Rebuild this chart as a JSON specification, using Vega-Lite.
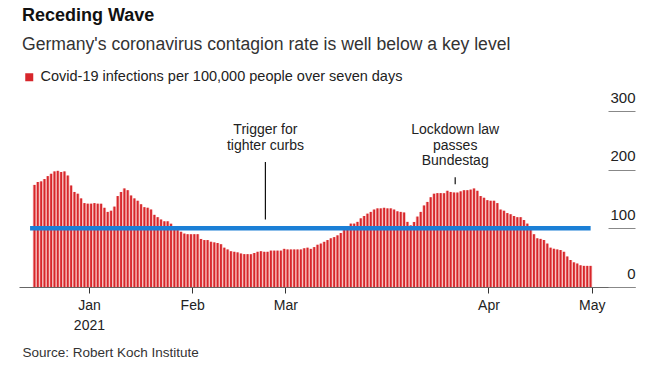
{
  "$schema": "https://vega.github.io/schema/vega-lite/v6.json",
  "autosize": {"type": "none"},
  "width": 616,
  "height": 176,
  "padding": {"left": 19, "top": 111, "right": 23, "bottom": 92},
  "background": "white",
  "config": {"font": "Liberation Sans", "view": {"stroke": null}},
  "title": {
    "text": "Receding Wave",
    "subtitle": "Germany's coronavirus contagion rate is well below a key level",
    "anchor": "start",
    "frame": "group",
    "orient": "top",
    "dx": 3,
    "font": "Liberation Sans",
    "fontSize": 18,
    "fontWeight": "bold",
    "color": "#111111",
    "subtitleFont": "Liberation Sans",
    "subtitleFontSize": 17.6,
    "subtitleColor": "#333333",
    "subtitlePadding": 11,
    "offset": 16
  },
  "datasets": {
    "infections": [
      {"date": "2020-12-15", "value": 174}, {"date": "2020-12-16", "value": 179}, {"date": "2020-12-17", "value": 180}, {"date": "2020-12-18", "value": 184}, {"date": "2020-12-19", "value": 189}, {"date": "2020-12-20", "value": 193}, {"date": "2020-12-21", "value": 197}, {"date": "2020-12-22", "value": 198}, {"date": "2020-12-23", "value": 196}, {"date": "2020-12-24", "value": 197}, {"date": "2020-12-25", "value": 190}, {"date": "2020-12-26", "value": 173}, {"date": "2020-12-27", "value": 162}, {"date": "2020-12-28", "value": 159}, {"date": "2020-12-29", "value": 151}, {"date": "2020-12-30", "value": 143}, {"date": "2020-12-31", "value": 142},
      {"date": "2021-01-01", "value": 142}, {"date": "2021-01-02", "value": 143}, {"date": "2021-01-03", "value": 142}, {"date": "2021-01-04", "value": 142}, {"date": "2021-01-05", "value": 135}, {"date": "2021-01-06", "value": 128}, {"date": "2021-01-07", "value": 130}, {"date": "2021-01-08", "value": 137}, {"date": "2021-01-09", "value": 155}, {"date": "2021-01-10", "value": 162}, {"date": "2021-01-11", "value": 168}, {"date": "2021-01-12", "value": 165}, {"date": "2021-01-13", "value": 156}, {"date": "2021-01-14", "value": 151}, {"date": "2021-01-15", "value": 147}, {"date": "2021-01-16", "value": 141}, {"date": "2021-01-17", "value": 136}, {"date": "2021-01-18", "value": 135}, {"date": "2021-01-19", "value": 132}, {"date": "2021-01-20", "value": 123}, {"date": "2021-01-21", "value": 119}, {"date": "2021-01-22", "value": 115}, {"date": "2021-01-23", "value": 112}, {"date": "2021-01-24", "value": 112}, {"date": "2021-01-25", "value": 108}, {"date": "2021-01-26", "value": 104}, {"date": "2021-01-27", "value": 97}, {"date": "2021-01-28", "value": 94}, {"date": "2021-01-29", "value": 91}, {"date": "2021-01-30", "value": 90}, {"date": "2021-01-31", "value": 90},
      {"date": "2021-02-01", "value": 90}, {"date": "2021-02-02", "value": 90}, {"date": "2021-02-03", "value": 82}, {"date": "2021-02-04", "value": 80}, {"date": "2021-02-05", "value": 80}, {"date": "2021-02-06", "value": 77}, {"date": "2021-02-07", "value": 76}, {"date": "2021-02-08", "value": 75}, {"date": "2021-02-09", "value": 73}, {"date": "2021-02-10", "value": 67}, {"date": "2021-02-11", "value": 64}, {"date": "2021-02-12", "value": 61}, {"date": "2021-02-13", "value": 60}, {"date": "2021-02-14", "value": 59}, {"date": "2021-02-15", "value": 57}, {"date": "2021-02-16", "value": 56}, {"date": "2021-02-17", "value": 56}, {"date": "2021-02-18", "value": 56}, {"date": "2021-02-19", "value": 58}, {"date": "2021-02-20", "value": 60}, {"date": "2021-02-21", "value": 61}, {"date": "2021-02-22", "value": 60}, {"date": "2021-02-23", "value": 60}, {"date": "2021-02-24", "value": 62}, {"date": "2021-02-25", "value": 62}, {"date": "2021-02-26", "value": 62}, {"date": "2021-02-27", "value": 62}, {"date": "2021-02-28", "value": 65},
      {"date": "2021-03-01", "value": 64}, {"date": "2021-03-02", "value": 64}, {"date": "2021-03-03", "value": 64}, {"date": "2021-03-04", "value": 64}, {"date": "2021-03-05", "value": 64}, {"date": "2021-03-06", "value": 66}, {"date": "2021-03-07", "value": 67}, {"date": "2021-03-08", "value": 65}, {"date": "2021-03-09", "value": 68}, {"date": "2021-03-10", "value": 72}, {"date": "2021-03-11", "value": 74}, {"date": "2021-03-12", "value": 77}, {"date": "2021-03-13", "value": 80}, {"date": "2021-03-14", "value": 83}, {"date": "2021-03-15", "value": 85}, {"date": "2021-03-16", "value": 88}, {"date": "2021-03-17", "value": 92}, {"date": "2021-03-18", "value": 97}, {"date": "2021-03-19", "value": 102}, {"date": "2021-03-20", "value": 108}, {"date": "2021-03-21", "value": 108}, {"date": "2021-03-22", "value": 111}, {"date": "2021-03-23", "value": 117}, {"date": "2021-03-24", "value": 121}, {"date": "2021-03-25", "value": 125}, {"date": "2021-03-26", "value": 128}, {"date": "2021-03-27", "value": 132}, {"date": "2021-03-28", "value": 134}, {"date": "2021-03-29", "value": 134}, {"date": "2021-03-30", "value": 135}, {"date": "2021-03-31", "value": 134},
      {"date": "2021-04-01", "value": 134}, {"date": "2021-04-02", "value": 132}, {"date": "2021-04-03", "value": 129}, {"date": "2021-04-04", "value": 128}, {"date": "2021-04-05", "value": 127}, {"date": "2021-04-06", "value": 111}, {"date": "2021-04-07", "value": 105}, {"date": "2021-04-08", "value": 111}, {"date": "2021-04-09", "value": 120}, {"date": "2021-04-10", "value": 128}, {"date": "2021-04-11", "value": 139}, {"date": "2021-04-12", "value": 145}, {"date": "2021-04-13", "value": 153}, {"date": "2021-04-14", "value": 159}, {"date": "2021-04-15", "value": 160}, {"date": "2021-04-16", "value": 160}, {"date": "2021-04-17", "value": 160}, {"date": "2021-04-18", "value": 164}, {"date": "2021-04-19", "value": 162}, {"date": "2021-04-20", "value": 161}, {"date": "2021-04-21", "value": 161}, {"date": "2021-04-22", "value": 163}, {"date": "2021-04-23", "value": 165}, {"date": "2021-04-24", "value": 165}, {"date": "2021-04-25", "value": 166}, {"date": "2021-04-26", "value": 168}, {"date": "2021-04-27", "value": 164}, {"date": "2021-04-28", "value": 155}, {"date": "2021-04-29", "value": 152}, {"date": "2021-04-30", "value": 148},
      {"date": "2021-05-01", "value": 147}, {"date": "2021-05-02", "value": 147}, {"date": "2021-05-03", "value": 143}, {"date": "2021-05-04", "value": 132}, {"date": "2021-05-05", "value": 130}, {"date": "2021-05-06", "value": 126}, {"date": "2021-05-07", "value": 124}, {"date": "2021-05-08", "value": 121}, {"date": "2021-05-09", "value": 119}, {"date": "2021-05-10", "value": 119}, {"date": "2021-05-11", "value": 114}, {"date": "2021-05-12", "value": 108}, {"date": "2021-05-13", "value": 100}, {"date": "2021-05-14", "value": 90}, {"date": "2021-05-15", "value": 83}, {"date": "2021-05-16", "value": 82}, {"date": "2021-05-17", "value": 80}, {"date": "2021-05-18", "value": 74}, {"date": "2021-05-19", "value": 67}, {"date": "2021-05-20", "value": 65}, {"date": "2021-05-21", "value": 64}, {"date": "2021-05-22", "value": 63}, {"date": "2021-05-23", "value": 60}, {"date": "2021-05-24", "value": 52}, {"date": "2021-05-25", "value": 46}, {"date": "2021-05-26", "value": 42}, {"date": "2021-05-27", "value": 40}, {"date": "2021-05-28", "value": 37}, {"date": "2021-05-29", "value": 36}, {"date": "2021-05-30", "value": 36}, {"date": "2021-05-31", "value": 36}
    ],
    "annotations": [
      {"date": "2021-02-23", "label": "Trigger for\ntighter curbs", "lineTop": 213, "lineBottom": 115},
      {"date": "2021-04-21", "label": "Lockdown law\npasses\nBundestag", "lineTop": 187, "lineBottom": 175}
    ]
  },
  "layer": [
    {
      "data": {"name": "infections"},
      "mark": {"type": "bar", "color": "#f5b3b1", "binSpacing": 0},
      "encoding": {
        "x": {
          "field": "date",
          "timeUnit": "utcyearmonthdate",
          "type": "temporal",
          "scale": {
            "type": "utc",
            "domain": [
              {"year": 2020, "month": 12, "date": 11, "utc": true},
              {"year": 2021, "month": 6, "date": 14, "utc": true}
            ]
          },
          "axis": {
            "title": "Source: Robert Koch Institute",
            "titleAnchor": "start",
            "titleAlign": "left",
            "titleX": 3,
            "titleY": 69,
            "titleBaseline": "alphabetic",
            "titleFont": "Liberation Sans",
            "titleFontSize": 13.5,
            "titleFontWeight": "normal",
            "titleColor": "#333333",
            "values": [
              {"year": 2021, "month": 1, "date": 1, "utc": true},
              {"year": 2021, "month": 2, "date": 1, "utc": true},
              {"year": 2021, "month": 3, "date": 1, "utc": true},
              {"year": 2021, "month": 5, "date": 1, "utc": true},
              {"year": 2021, "month": 6, "date": 1, "utc": true}
            ],
            "labelExpr": "utcmonth(datum.value) == 0 ? ['Jan', '2021'] : utcmonth(datum.value) == 1 ? 'Feb' : utcmonth(datum.value) == 2 ? 'Mar' : utcmonth(datum.value) == 4 ? 'Apr' : 'May'",
            "labelFont": "Liberation Sans",
            "labelFontSize": 14,
            "labelColor": "#222222",
            "labelBaseline": "alphabetic",
            "labelPadding": 16,
            "labelLineHeight": 20,
            "labelFlush": false,
            "labelOverlap": false,
            "labelBound": false,
            "domainColor": "#666666",
            "domainWidth": 1,
            "tickColor": "#333333",
            "tickSize": 6,
            "tickWidth": 1,
            "grid": false
          }
        },
        "y": {
          "field": "value",
          "type": "quantitative",
          "scale": {"domain": [0, 300], "nice": false},
          "axis": {
            "orient": "right",
            "title": null,
            "values": [0, 100, 200, 300],
            "offset": -27,
            "domain": false,
            "grid": false,
            "ticks": true,
            "tickSize": 27,
            "tickColor": "#888888",
            "tickWidth": 1,
            "labelAlign": "right",
            "labelBaseline": "alphabetic",
            "labelOffset": -9,
            "labelPadding": 0,
            "labelFont": "Liberation Sans",
            "labelFontSize": 15,
            "labelColor": "#222222",
            "labelBound": false,
            "labelOverlap": false
          }
        }
      }
    },
    {
      "data": {"name": "infections"},
      "mark": {"type": "bar", "binSpacing": 1.5},
      "encoding": {
        "x": {"field": "date", "timeUnit": "utcyearmonthdate", "type": "temporal", "scale": {"type": "utc"}},
        "y": {"field": "value", "type": "quantitative"},
        "color": {
          "datum": "Covid-19 infections per 100,000 people over seven days",
          "scale": {"range": ["#d7262b"]},
          "legend": {
            "orient": "none",
            "legendX": 3,
            "legendY": -41,
            "title": null,
            "padding": 0,
            "symbolType": "square",
            "symbolSize": 64,
            "symbolStrokeWidth": 0,
            "labelFont": "Liberation Sans",
            "labelFontSize": 14.5,
            "labelColor": "#222222",
            "labelLimit": 600,
            "labelOffset": 4
          }
        }
      }
    },
    {
      "data": {"name": "infections"},
      "mark": {"type": "rule", "color": "#1b7fd6", "strokeWidth": 4.5, "strokeCap": "square"},
      "encoding": {
        "x": {"aggregate": "min", "field": "date", "type": "temporal", "scale": {"type": "utc"}},
        "x2": {"aggregate": "max", "field": "date"},
        "y": {"datum": 100}
      }
    },
    {
      "data": {"name": "annotations"},
      "mark": {"type": "rule", "color": "#111111", "strokeWidth": 1.2},
      "encoding": {
        "x": {"field": "date", "type": "temporal", "scale": {"type": "utc"}},
        "y": {"field": "lineTop", "type": "quantitative"},
        "y2": {"field": "lineBottom"}
      }
    },
    {
      "data": {"name": "annotations"},
      "mark": {"type": "text", "align": "center", "baseline": "alphabetic", "lineBreak": "\n", "lineHeight": 15.5, "font": "Liberation Sans", "fontSize": 14, "color": "#222222"},
      "encoding": {
        "x": {"field": "date", "type": "temporal", "scale": {"type": "utc"}},
        "y": {"datum": 260},
        "text": {"field": "label", "type": "nominal"}
      }
    }
  ]
}
